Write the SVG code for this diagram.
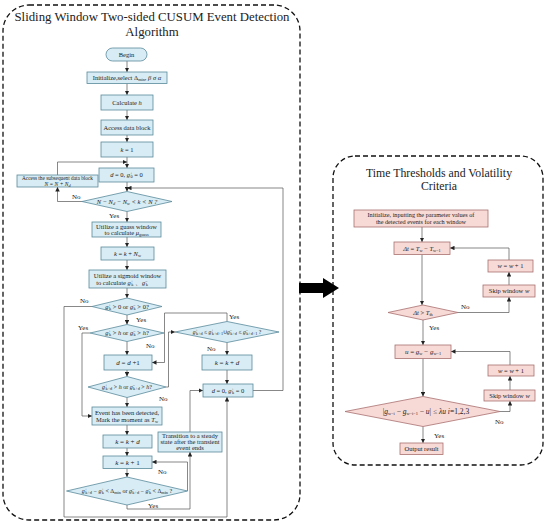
<svg xmlns="http://www.w3.org/2000/svg" width="550" height="528" viewBox="0 0 550 528">
<defs>
<marker id="ah" viewBox="0 0 6 6" refX="6" refY="3" markerWidth="4.5" markerHeight="4.5" markerUnits="userSpaceOnUse" orient="auto"><path d="M0,0 L6,3 L0,6 z" fill="#222"/></marker>
<style>
.pn{fill:none;stroke:#111;stroke-width:1.3;stroke-dasharray:5 3}
.bx{fill:#d7ecf4;stroke:#5a8a9c;stroke-width:0.8}
.pk{fill:#f7d9d6;stroke:#a87070;stroke-width:0.8}
.ln{fill:none;stroke:#555;stroke-width:0.7;marker-end:url(#ah)}
.t{font-family:"Liberation Serif",serif;font-size:6.5px;fill:#222;text-anchor:middle}
.tr{font-family:"Liberation Serif",serif;font-size:6.2px;fill:#222;text-anchor:middle}
.lb{font-family:"Liberation Serif",serif;font-size:7px;fill:#222}
.ti{font-family:"Liberation Serif",serif;font-size:12.8px;fill:#222;text-anchor:middle}
.i{font-style:italic}
.s{font-size:4.3px;baseline-shift:-1.3px}
.u{font-size:4.3px;baseline-shift:2.2px}
</style>
</defs>

<rect class="pn" x="3" y="5" width="297" height="515" rx="26"/>
<rect class="pn" x="333" y="156" width="210" height="309" rx="22"/>
<text class="ti" x="152" y="21">Sliding Window Two-sided CUSUM Event Detection</text>
<text class="ti" x="152" y="36">Algorithm</text>
<text class="ti" x="439" y="177" style="font-size:11.8px">Time Thresholds and Volatility</text>
<text class="ti" x="439" y="190" style="font-size:11.8px">Criteria</text>

<polygon points="299,283 323,283 323,278 339,288 323,298 323,293 299,293" fill="#000"/>

<g id="connectors">
<path class="ln" d="M127,61V72"/>
<path class="ln" d="M127,83.5V95"/>
<path class="ln" d="M127,110V120"/>
<path class="ln" d="M127,135V142"/>
<path class="ln" d="M127,157V168"/>
<path class="ln" d="M57.5,175V162H127"/>
<path class="ln" d="M127,182V191.5"/>
<path class="ln" d="M253,390.5H283V188H127"/>
<path class="ln" d="M82,201.5H57.5V187"/>
<path class="ln" d="M127,211.5V222"/>
<path class="ln" d="M127,237V247"/>
<path class="ln" d="M127,260V270"/>
<path class="ln" d="M127,288V298"/>
<path class="ln" d="M127,315V324.5"/>
<path class="ln" d="M127,341.5V355"/>
<path class="ln" d="M127,370V376.5"/>
<path class="ln" d="M127,397.5V407"/>
<path class="ln" d="M127,425V435"/>
<path class="ln" d="M127,448V456"/>
<path class="ln" d="M127,468.5V477"/>
<path class="ln" d="M187.5,491V462H152"/>
<path class="ln" d="M127,505V509H190V452"/>
<path class="ln" d="M190,432V390.5H203"/>
<path class="ln" d="M92,306.5H64V517H227V397"/>
<path class="ln" d="M90,333H82V416H92"/>
<path class="ln" d="M227,321.5V313H164.5V362.5H152"/>
<path class="ln" d="M166,387H168.5V332H175"/>
<path class="ln" d="M227,342.5V355"/>
<path class="ln" d="M227,370V384"/>

<path class="ln" d="M422,227V242"/>
<path class="ln" d="M422,254.5V305"/>
<path class="ln" d="M458,312.5H509V297"/>
<path class="ln" d="M509,285V272"/>
<path class="ln" d="M509,260V248H450"/>
<path class="ln" d="M423,320V345"/>
<path class="ln" d="M423,358.5V396.5"/>
<path class="ln" d="M500,411.5H510V401"/>
<path class="ln" d="M510,390V376"/>
<path class="ln" d="M510,365V351.5H451"/>
<path class="ln" d="M423,426.5V443"/>
</g>

<g id="begin"><rect class="bx" x="106" y="48" width="41" height="13" rx="6.5"/><text class="t" x="126.5" y="56.8">Begin</text></g>
<g id="init"><rect class="bx" x="87" y="72" width="80" height="11.5"/><text class="t" x="127" y="80">Initialize,select Δ<tspan class="s">min</tspan>, <tspan class="i">β  σ  α</tspan></text></g>
<g id="calch"><rect class="bx" x="101" y="95" width="52" height="15"/><text class="t" x="127" y="104.8">Calculate <tspan class="i">h</tspan></text></g>
<g id="access"><rect class="bx" x="101" y="120" width="52" height="15"/><text class="t" x="127" y="129.8">Access data block</text></g>
<g id="k1"><rect class="bx" x="101" y="142" width="52" height="15"/><text class="t" x="127" y="151.8"><tspan class="i">k</tspan> = 1</text></g>
<g id="d0a"><rect class="bx" x="99" y="168" width="55" height="14"/><text class="t" x="126.5" y="177.3"><tspan class="i">d</tspan> = 0,  <tspan class="i">g</tspan><tspan class="u">+</tspan><tspan class="s" dx="-2">0</tspan> = 0</text></g>
<g id="accsub"><rect class="bx" x="17" y="175" width="81" height="12"/><text class="t" x="57.5" y="180.3" style="font-size:5.3px">Access the subsequent data block</text><text class="t i" x="57.5" y="185.8" style="font-size:5.5px">N = N + N<tspan class="s">d</tspan></text></g>
<g id="d1"><polygon class="bx" points="82,201.5 127,191.5 172,201.5 127,211.5"/><text class="t i" x="127" y="203.8">N − N<tspan class="s">d</tspan> − N<tspan class="s">w</tspan> &lt; k &lt; N ?</text></g>
<g id="gauss"><rect class="bx" x="92" y="222" width="69" height="15"/><text class="t" x="126.5" y="228.5">Utilize a guass window</text><text class="t" x="126.5" y="235">to calculate <tspan class="i">μ</tspan><tspan class="s">guass</tspan></text></g>
<g id="kNw"><rect class="bx" x="101" y="247" width="53" height="13"/><text class="t" x="127.5" y="255.8"><tspan class="i">k</tspan> = <tspan class="i">k</tspan> + <tspan class="i">N</tspan><tspan class="s">w</tspan></text></g>
<g id="sigmoid"><rect class="bx" x="89" y="270" width="77" height="18"/><text class="t" x="127.5" y="277.5">Utilize a sigmoid window</text><text class="t" x="122" y="285">to calculate  <tspan class="i">g</tspan><tspan class="u">+</tspan><tspan class="s" dx="-2">k</tspan> 、<tspan class="i">g</tspan><tspan class="u">−</tspan><tspan class="s" dx="-2">k</tspan></text></g>
<g id="d2"><polygon class="bx" points="92,306.5 127,298 162,306.5 127,315"/><text class="t" x="127" y="308.8"><tspan class="i">g</tspan><tspan class="u">+</tspan><tspan class="s" dx="-2">k</tspan> &gt; 0 or <tspan class="i">g</tspan><tspan class="u">−</tspan><tspan class="s" dx="-2">k</tspan> &gt; 0?</text></g>
<g id="d3"><polygon class="bx" points="90,333 127,324.5 164,333 127,341.5"/><text class="t" x="127" y="335.3"><tspan class="i">g</tspan><tspan class="u">+</tspan><tspan class="s" dx="-2">k</tspan> &gt; <tspan class="i">h</tspan> or <tspan class="i">g</tspan><tspan class="u">−</tspan><tspan class="s" dx="-2">k</tspan> &gt; <tspan class="i">h</tspan>?</text></g>
<g id="dd1"><rect class="bx" x="104" y="355" width="48" height="15"/><text class="t" x="128" y="364.8" style="font-size:7px"><tspan class="i">d</tspan> = <tspan class="i">d</tspan> +1</text></g>
<g id="d4"><polygon class="bx" points="88,387 127,376.5 166,387 127,397.5"/><text class="t" x="127" y="389.3" style="font-size:6px"><tspan class="i">g</tspan><tspan class="u">+</tspan><tspan class="s" dx="-2">k+d</tspan> &gt; <tspan class="i">h</tspan> or <tspan class="i">g</tspan><tspan class="u">−</tspan><tspan class="s" dx="-2">k+d</tspan> &gt; <tspan class="i">h</tspan>?</text></g>
<g id="event"><rect class="bx" x="92" y="407" width="70" height="18"/><text class="t" x="127" y="414.5">Event has been detected,</text><text class="t" x="127" y="422">Mark the moment as <tspan class="i">T</tspan><tspan class="s">w</tspan></text></g>
<g id="kkd"><rect class="bx" x="103" y="435" width="49" height="13"/><text class="t" x="127.5" y="443.8" style="font-size:7px"><tspan class="i">k</tspan> = <tspan class="i">k</tspan> + <tspan class="i">d</tspan></text></g>
<g id="kk1"><rect class="bx" x="103" y="456" width="49" height="12.5"/><text class="t" x="127.5" y="464.6" style="font-size:7px"><tspan class="i">k</tspan> = <tspan class="i">k</tspan> + 1</text></g>
<g id="d5"><polygon class="bx" points="66.5,491 127,477 187.5,491 127,505"/><text class="t" x="127" y="493.3" style="font-size:6px"><tspan class="i">g</tspan><tspan class="u">+</tspan><tspan class="s" dx="-2">k+d</tspan> − <tspan class="i">g</tspan><tspan class="u">+</tspan><tspan class="s" dx="-2">k</tspan> &lt; Δ<tspan class="s">min</tspan> or <tspan class="i">g</tspan><tspan class="u">−</tspan><tspan class="s" dx="-2">k+d</tspan> − <tspan class="i">g</tspan><tspan class="u">−</tspan><tspan class="s" dx="-2">k</tspan> &lt; Δ<tspan class="s">min</tspan> ?</text></g>
<g id="d6"><polygon class="bx" points="175,332 227,321.5 279,332 227,342.5"/><text class="t" x="227" y="334.2" style="font-size:5.6px"><tspan class="i">g</tspan><tspan class="u">+</tspan><tspan class="s" dx="-2">k+d</tspan> ≤ <tspan class="i">g</tspan><tspan class="u">+</tspan><tspan class="s" dx="-2">k+d+1</tspan>∪<tspan class="i">g</tspan><tspan class="u">−</tspan><tspan class="s" dx="-2">k+d</tspan> ≤ <tspan class="i">g</tspan><tspan class="u">−</tspan><tspan class="s" dx="-2">k+d+1</tspan> ?</text></g>
<g id="kkd2"><rect class="bx" x="202" y="355" width="50" height="15"/><text class="t" x="227" y="364.8" style="font-size:7px"><tspan class="i">k</tspan> = <tspan class="i">k</tspan> + <tspan class="i">d</tspan></text></g>
<g id="d0b"><rect class="bx" x="203" y="384" width="50" height="13"/><text class="t" x="228" y="392.8"><tspan class="i">d</tspan> = 0,  <tspan class="i">g</tspan><tspan class="u">+</tspan><tspan class="s" dx="-2">k</tspan> = 0</text></g>
<g id="transition"><rect class="bx" x="158" y="432" width="64" height="20"/><text class="t" x="190" y="438.3">Transition to a steady</text><text class="t" x="190" y="444.3">state after the transient</text><text class="t" x="190" y="450.3">event ends</text></g>

<g id="labels">
<text class="lb" x="72" y="199">No</text>
<text class="lb" x="109" y="218">Yes</text>
<text class="lb" x="80" y="303">No</text>
<text class="lb" x="136" y="322">Yes</text>
<text class="lb" x="78" y="330">Yes</text>
<text class="lb" x="146" y="348">No</text>
<text class="lb" x="229" y="319">Yes</text>
<text class="lb" x="207" y="351">No</text>
<text class="lb" x="159" y="401">No</text>
<text class="lb" x="158" y="474">No</text>
<text class="lb" x="148" y="508">Yes</text>
<text class="lb" x="461" y="309">No</text>
<text class="lb" x="429" y="330">Yes</text>
<text class="lb" x="495" y="424">No</text>
<text class="lb" x="434" y="438">Yes</text>
</g>

<g id="rinit"><rect class="pk" x="354" y="210" width="134" height="17"/><text class="tr" x="421" y="217">Initialize, inputting the parameter values of</text><text class="tr" x="421" y="224">the detected events for each window</text></g>
<g id="dt"><rect class="pk" x="394" y="242" width="56" height="12.5"/><text class="t" x="422" y="250.5"><tspan class="i">Δt</tspan> = <tspan class="i">T</tspan><tspan class="s">w</tspan> − <tspan class="i">T</tspan><tspan class="s">w−1</tspan></text></g>
<g id="ww1a"><rect class="pk" x="488" y="260" width="45" height="12"/><text class="t" x="510.5" y="268.3"><tspan class="i">w</tspan> = <tspan class="i">w</tspan> + 1</text></g>
<g id="skipa"><rect class="pk" x="483" y="285" width="52" height="12"/><text class="t" x="509" y="293.3">Skip window <tspan class="i">w</tspan></text></g>
<g id="d7"><polygon class="pk" points="388,312.5 423,305 458,312.5 423,320"/><text class="t" x="423" y="314.8"><tspan class="i">Δt</tspan> &gt; <tspan class="i">T</tspan><tspan class="s">th</tspan></text></g>
<g id="ubox"><rect class="pk" x="395" y="345" width="56" height="13.5"/><text class="t" x="423" y="354" style="font-size:7px"><tspan class="i">u</tspan> = <tspan class="i">g</tspan><tspan class="s">w</tspan> − <tspan class="i">g</tspan><tspan class="s">w−1</tspan></text></g>
<g id="ww1b"><rect class="pk" x="488" y="365" width="46" height="11"/><text class="t" x="511" y="372.8"><tspan class="i">w</tspan> = <tspan class="i">w</tspan> + 1</text></g>
<g id="skipb"><rect class="pk" x="484" y="390" width="51" height="11"/><text class="t" x="509.5" y="397.8">Skip window <tspan class="i">w</tspan></text></g>
<g id="d8"><polygon class="pk" points="345,411.5 423,396.5 500,411.5 423,426.5"/><text class="t" x="426" y="414.3" style="font-size:7.5px">|<tspan class="i">g</tspan><tspan class="s">w−i</tspan> − <tspan class="i">g</tspan><tspan class="s">w−i−1</tspan> − <tspan class="i">u</tspan>| ≤ <tspan class="i">λu</tspan>    <tspan class="i">i</tspan>=1,2,3</text></g>
<g id="output"><rect class="pk" x="400" y="443" width="43" height="11.5"/><text class="t" x="421.5" y="451">Output result</text></g>
</svg>
